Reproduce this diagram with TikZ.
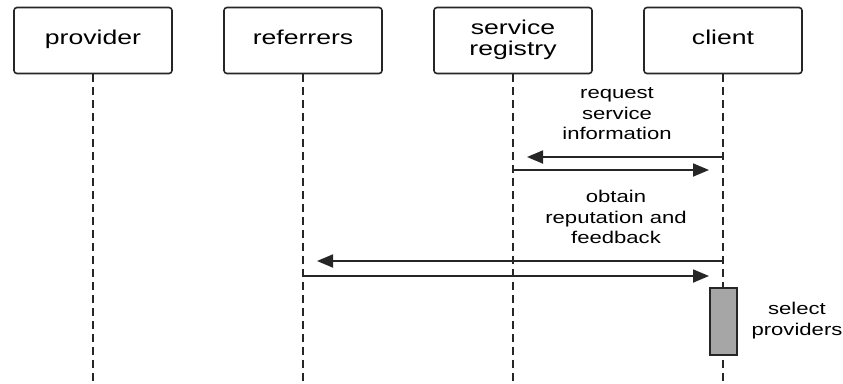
\documentclass[tikz,border=0pt]{standalone}
\usepackage{fontspec}
\setmainfont{Liberation Sans}
\usepackage{graphicx}
\usetikzlibrary{arrows.meta}
\newcommand{\wtext}[2][1.3]{\scalebox{#1}[1]{\begin{tabular}{@{}c@{}}#2\end{tabular}}}
\tikzset{
  actor/.style={draw=black!85, line width=1.6pt, rounded corners=3pt, minimum width=158pt, minimum height=66pt, inner sep=0pt,
    font=\fontsize{20}{21.5}\selectfont},
  lifeline/.style={draw=black!85, line width=1.6pt, dash pattern=on 8pt off 5pt},
  msg/.style={draw=black!85, line width=1.8pt, -{Triangle[length=16pt,width=13pt]}, shorten >=14pt},
  msglabel/.style={inner sep=0pt, font=\fontsize{17}{20.5}\selectfont},
  activation/.style={draw=black!85, line width=1.6pt, fill=black!35, minimum width=27pt, minimum height=67pt, inner sep=0pt},
}
\begin{document}
\begin{tikzpicture}[x=1pt,y=-1pt]
\useasboundingbox (0,0) rectangle (843,383);
% actors
\node[actor] (provider) at (93,40.5) {\wtext[1.33]{provider}};
\node[actor] (referrers) at (303,40.5) {\wtext[1.33]{referrers}};
\node[actor] (registry) at (513,40.5) {\wtext[1.33]{service\\registry}};
\node[actor] (client) at (723,40.5) {\wtext[1.33]{client}};
% lifeline ends
\coordinate (providerEnd) at (93,383);
\coordinate (referrersEnd) at (303,383);
\coordinate (registryEnd) at (513,383);
\coordinate (clientEnd) at (723,383);
\draw[lifeline] (provider.south) -- (providerEnd);
\draw[lifeline] (referrers.south) -- (referrersEnd);
\draw[lifeline] (registry.south) -- (registryEnd);
\draw[lifeline] (client.south) -- (clientEnd);
% message points
\coordinate (c1) at (723,157);
\coordinate (r1) at (513,157);
\coordinate (r2) at (513,170);
\coordinate (c2) at (723,170);
\coordinate (c3) at (723,261);
\coordinate (f3) at (303,261);
\coordinate (f4) at (303,276);
\coordinate (c4) at (723,276);
% messages
\node[msglabel] (reqlabel) at (617,115) {\wtext{request\\service\\information}};
\draw[msg] (c1) -- (r1);
\draw[msg] (r2) -- (c2);
\node[msglabel] (oblabel) at (616,219) {\wtext{obtain\\reputation and\\feedback}};
\draw[msg] (c3) -- (f3);
\draw[msg] (f4) -- (c4);
% activation
\node[activation] (select) at (723.5,321.5) {};
\node[msglabel] (selectlabel) at (797,321) {\wtext{select\\providers}};
\end{tikzpicture}
\end{document}
